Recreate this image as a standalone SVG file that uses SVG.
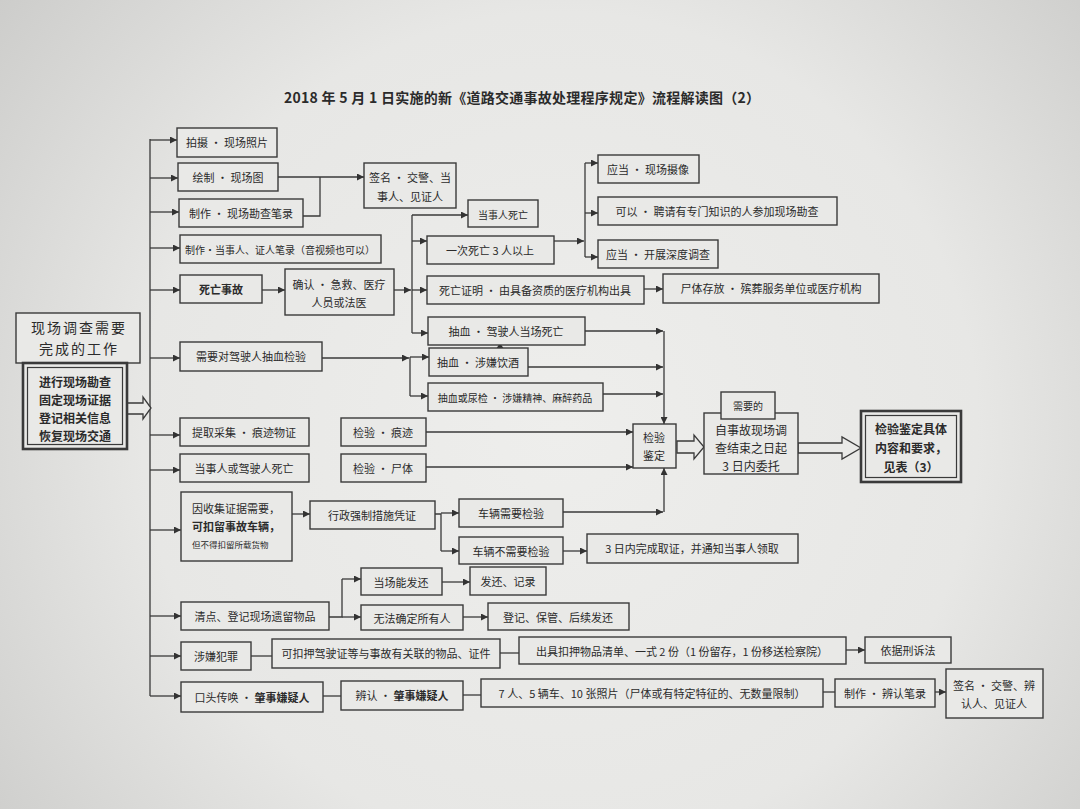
<svg xmlns="http://www.w3.org/2000/svg" width="1080" height="809" viewBox="0 0 1080 809">
<defs>
<radialGradient id="bg" cx="560" cy="430" r="760" gradientUnits="userSpaceOnUse">
<stop offset="0" stop-color="#eeeeec"/>
<stop offset="0.55" stop-color="#e7e7e5"/>
<stop offset="1" stop-color="#c8c8c6"/>
</radialGradient>
<marker id="a" viewBox="0 0 10 10" refX="10" refY="5" markerWidth="9" markerHeight="7" markerUnits="userSpaceOnUse" orient="auto">
<path d="M0,0 L10,5 L0,10 z" fill="#333"/>
</marker>
<style>
.b{fill:#e9e9e7;stroke:#3a3a3a;stroke-width:1.4}
.bo{fill:#e9e9e7;stroke:#3a3a3a;stroke-width:2.6}
.bi{fill:none;stroke:#3a3a3a;stroke-width:1.2}
.t{font-family:"Noto Sans CJK SC","Noto Sans",sans-serif;font-size:11px;fill:#2b2b2b;text-anchor:middle;dominant-baseline:central}
.s{font-size:10px}
.l{font-size:12px}
.w{font-weight:bold}
.c{fill:none;stroke:#3a3a3a;stroke-width:1.3}
.m{marker-end:url(#a)}
.h{fill:#e9e9e7;stroke:#3a3a3a;stroke-width:1.3}
</style>
</defs>
<rect x="0" y="0" width="1080" height="809" fill="url(#bg)"/>
<text x="284" y="97" class="t w" style="font-size:14px;text-anchor:start" textLength="476" lengthAdjust="spacing">2018 年 5 月 1 日实施的新《道路交通事故处理程序规定》流程解读图（2）</text>

<g id="connectors">
<path class="c" d="M150,139 V696"/>
<path class="c m" d="M150,140 H177"/>
<path class="c m" d="M150,178 H178"/>
<path class="c m" d="M150,212 H179"/>
<path class="c m" d="M150,248 H180"/>
<path class="c m" d="M150,290 H180"/>
<path class="c m" d="M150,358 H180"/>
<path class="c m" d="M150,435 H180"/>
<path class="c m" d="M150,470 H180"/>
<path class="c m" d="M150,530 H181"/>
<path class="c m" d="M150,616 H181"/>
<path class="c m" d="M150,656 H181"/>
<path class="c m" d="M150,696 H181"/>
<polygon class="h" points="127,403 143,403 143,397 151,408 143,419 143,414 127,414"/>
<path class="c m" d="M278,177 H364"/>
<path class="c" d="M303,216 H320 V177"/>
<path class="c m" d="M262,290 H285"/>
<path class="c m" d="M394,290 H411"/>
<path class="c" d="M412,215 V333"/>
<path class="c m" d="M412,215 H468"/>
<path class="c m" d="M412,241 H427"/>
<path class="c m" d="M412,290 H427"/>
<path class="c m" d="M412,333 H428"/>
<path class="c m" d="M554,241 H584"/>
<path class="c" d="M585,163 V257"/>
<path class="c m" d="M585,163 H598"/>
<path class="c m" d="M585,213 H598"/>
<path class="c m" d="M585,257 H598"/>
<path class="c m" d="M644,289 H663"/>
<path class="c m" d="M322,358 H409"/>
<path class="c" d="M410,357 V396"/>
<path class="c m" d="M410,357 H429"/>
<path class="c m" d="M410,396 H428"/>
<polygon points="496,349 504,349 500,343" fill="#333"/>
<path class="c m" d="M585,331 H663"/>
<path class="c m" d="M528,367 H663"/>
<path class="c m" d="M603,394 H663"/>
<path class="c m" d="M664,331 V424"/>
<path class="c m" d="M426,432 H633"/>
<path class="c m" d="M426,467 H633"/>
<path class="c m" d="M563,512 H663"/>
<path class="c m" d="M664,512 V468"/>
<polygon class="h" points="677,441 694,441 694,435 704,447 694,459 694,453 677,453"/>
<polygon class="h" points="798,443 842,443 842,437 861,448 842,459 842,453 798,453"/>
<path class="c m" d="M292,514 H310"/>
<path class="c" d="M435,514 H441 V551"/>
<path class="c m" d="M441,513 H459"/>
<path class="c m" d="M441,551 H459"/>
<path class="c m" d="M563,551 H587"/>
<path class="c" d="M329,617 H342 V579"/>
<path class="c m" d="M342,579 H361"/>
<path class="c m" d="M342,617 H361"/>
<path class="c m" d="M442,582 H470"/>
<path class="c m" d="M463,617 H488"/>
<path class="c" d="M251,656 H272"/>
<path class="c" d="M500,653 H519"/>
<path class="c m" d="M846,650 H865"/>
<path class="c" d="M323,696 H341"/>
<path class="c" d="M463,695 H481"/>
<path class="c" d="M823,692 H835"/>
<path class="c m" d="M935,692 H946"/>
</g>

<g id="n-left-title"><rect class="b" x="16" y="313" width="124" height="50"/>
<text class="t" style="font-size:14px;letter-spacing:2px" x="79" y="327">现场调查需要</text>
<text class="t" style="font-size:14px;letter-spacing:2px" x="79" y="348">完成的工作</text></g>
<g id="n-left-main"><rect class="bo" x="23" y="363" width="104" height="86"/><rect class="bi" x="27.5" y="367.5" width="95" height="77"/>
<text class="t l w" x="75" y="381">进行现场勘查</text>
<text class="t l w" x="75" y="399">固定现场证据</text>
<text class="t l w" x="75" y="417">登记相关信息</text>
<text class="t l w" x="75" y="435">恢复现场交通</text></g>

<g id="n1"><rect class="b" x="177" y="128" width="100" height="29"/><text class="t" x="227" y="142">拍摄 · 现场照片</text></g>
<g id="n2"><rect class="b" x="178" y="163" width="100" height="28"/><text class="t" x="228" y="177">绘制 · 现场图</text></g>
<g id="n3"><rect class="b" x="179" y="199" width="124" height="28"/><text class="t" x="241" y="213">制作 · 现场勘查笔录</text></g>
<g id="n4"><rect class="b" x="180" y="235" width="201" height="28"/><text class="t s" x="280" y="249">制作·当事人、证人笔录（音视频也可以）</text></g>
<g id="n5"><rect class="b" x="180" y="275" width="82" height="28"/><text class="t w" x="221" y="289">死亡事故</text></g>
<g id="n6"><rect class="b" x="285" y="269" width="109" height="46"/><text class="t" x="339" y="284">确认 · 急救、医疗</text><text class="t" x="339" y="302">人员或法医</text></g>
<g id="n7"><rect class="b" x="364" y="163" width="92" height="45"/><text class="t" x="410" y="177">签名 · 交警、当</text><text class="t" x="410" y="196">事人、见证人</text></g>
<g id="n8"><rect class="b" x="468" y="200" width="70" height="27"/><text class="t s" x="503" y="214">当事人死亡</text></g>
<g id="n9"><rect class="b" x="427" y="236" width="127" height="28"/><text class="t" x="490" y="250">一次死亡 3 人以上</text></g>
<g id="n10"><rect class="b" x="427" y="276" width="217" height="28"/><text class="t" x="535" y="290">死亡证明 · 由具备资质的医疗机构出具</text></g>
<g id="n11"><rect class="b" x="663" y="274" width="216" height="29"/><text class="t" x="771" y="288">尸体存放 · 殡葬服务单位或医疗机构</text></g>
<g id="n12"><rect class="b" x="598" y="155" width="101" height="28"/><text class="t" x="648" y="169">应当 · 现场摄像</text></g>
<g id="n13"><rect class="b" x="598" y="197" width="239" height="28"/><text class="t" x="717" y="211">可以 · 聘请有专门知识的人参加现场勘查</text></g>
<g id="n14"><rect class="b" x="598" y="240" width="120" height="28"/><text class="t" x="658" y="254">应当 · 开展深度调查</text></g>
<g id="n15"><rect class="b" x="180" y="342" width="142" height="29"/><text class="t" x="251" y="356">需要对驾驶人抽血检验</text></g>
<g id="n16"><rect class="b" x="428" y="317" width="157" height="28"/><text class="t" x="506" y="331">抽血 · 驾驶人当场死亡</text></g>
<g id="n17"><rect class="b" x="429" y="348" width="99" height="28"/><text class="t" x="478" y="362">抽血 · 涉嫌饮酒</text></g>
<g id="n18"><rect class="b" x="428" y="383" width="175" height="28"/><text class="t s" x="515" y="397">抽血或尿检 · 涉嫌精神、麻醉药品</text></g>
<g id="n19"><rect class="b" x="180" y="418" width="129" height="28"/><text class="t" x="244" y="432">提取采集 · 痕迹物证</text></g>
<g id="n20"><rect class="b" x="180" y="454" width="129" height="28"/><text class="t" x="244" y="468">当事人或驾驶人死亡</text></g>
<g id="n21"><rect class="b" x="341" y="418" width="85" height="28"/><text class="t" x="383" y="432">检验 · 痕迹</text></g>
<g id="n22"><rect class="b" x="341" y="454" width="85" height="28"/><text class="t" x="383" y="468">检验 · 尸体</text></g>
<g id="n23"><rect class="b" x="633" y="424" width="43" height="44"/><text class="t" x="654" y="437">检验</text><text class="t" x="654" y="455">鉴定</text></g>
<g id="n24"><rect class="b" x="704" y="413" width="94" height="61"/><text class="t l" x="751" y="429">自事故现场调</text><text class="t l" x="751" y="447">查结束之日起</text><text class="t l" x="751" y="465">3 日内委托</text></g>
<g id="n25"><rect class="b" x="721" y="392" width="54" height="27"/><text class="t s" x="748" y="405">需要的</text></g>
<g id="n26"><rect class="bo" x="861" y="411" width="100" height="71"/><rect class="bi" x="865.5" y="415.5" width="91" height="62"/>
<text class="t l w" x="911" y="428">检验鉴定具体</text><text class="t l w" x="911" y="447">内容和要求，</text><text class="t l w" x="911" y="466">见表（3）</text></g>
<g id="n27"><rect class="b" x="181" y="492" width="111" height="69"/>
<text class="t" style="text-anchor:start" x="192" y="508">因收集证据需要，</text>
<text class="t w" style="text-anchor:start" x="192" y="526">可扣留事故车辆，</text>
<text class="t" style="text-anchor:start;font-size:8.5px" x="192" y="544">但不得扣留所载货物</text></g>
<g id="n28"><rect class="b" x="310" y="501" width="125" height="28"/><text class="t" x="372" y="515">行政强制措施凭证</text></g>
<g id="n29"><rect class="b" x="459" y="499" width="104" height="28"/><text class="t" x="511" y="513">车辆需要检验</text></g>
<g id="n30"><rect class="b" x="459" y="537" width="104" height="27"/><text class="t" x="511" y="551">车辆不需要检验</text></g>
<g id="n31"><rect class="b" x="587" y="534" width="211" height="29"/><text class="t" x="692" y="548">3 日内完成取证，并通知当事人领取</text></g>
<g id="n32"><rect class="b" x="361" y="568" width="81" height="27"/><text class="t" x="401" y="582">当场能发还</text></g>
<g id="n33"><rect class="b" x="470" y="567" width="76" height="28"/><text class="t" x="508" y="581">发还、记录</text></g>
<g id="n34"><rect class="b" x="181" y="602" width="148" height="28"/><text class="t" x="255" y="616">清点、登记现场遗留物品</text></g>
<g id="n35"><rect class="b" x="361" y="605" width="102" height="25"/><text class="t" x="412" y="618">无法确定所有人</text></g>
<g id="n36"><rect class="b" x="488" y="603" width="141" height="27"/><text class="t" x="558" y="617">登记、保管、后续发还</text></g>
<g id="n37"><rect class="b" x="181" y="642" width="70" height="28"/><text class="t" x="216" y="656">涉嫌犯罪</text></g>
<g id="n38"><rect class="b" x="272" y="639" width="228" height="29"/><text class="t" x="386" y="653">可扣押驾驶证等与事故有关联的物品、证件</text></g>
<g id="n39"><rect class="b" x="519" y="637" width="327" height="27"/><text class="t" x="682" y="651">出具扣押物品清单、一式 2 份（1 份留存，1 份移送检察院）</text></g>
<g id="n40"><rect class="b" x="865" y="637" width="86" height="26"/><text class="t" x="908" y="650">依据刑诉法</text></g>
<g id="n41"><rect class="b" x="181" y="682" width="142" height="30"/><text class="t" x="252" y="697">口头传唤 · <tspan class="w">肇事嫌疑人</tspan></text></g>
<g id="n42"><rect class="b" x="341" y="681" width="122" height="29"/><text class="t" x="402" y="695">辨认 · <tspan class="w">肇事嫌疑人</tspan></text></g>
<g id="n43"><rect class="b" x="481" y="679" width="342" height="28"/><text class="t" x="652" y="693">7 人、5 辆车、10 张照片（尸体或有特定特征的、无数量限制）</text></g>
<g id="n44"><rect class="b" x="835" y="679" width="100" height="28"/><text class="t" x="885" y="693">制作 · 辨认笔录</text></g>
<g id="n45"><rect class="b" x="946" y="669" width="97" height="49"/><text class="t" x="994" y="685">签名 · 交警、辨</text><text class="t" x="994" y="703">认人、见证人</text></g>
</svg>
